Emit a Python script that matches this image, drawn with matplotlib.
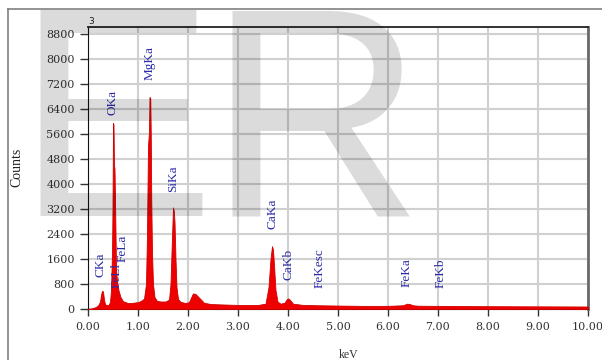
import matplotlib.pyplot as plt
from matplotlib.lines import Line2D

# spectrum (keV, counts)
energy = [0.00, 0.08, 0.15, 0.20, 0.24, 0.26, 0.28, 0.30, 0.32, 0.34, 0.37, 0.41,
          0.44, 0.46, 0.48, 0.49, 0.50, 0.51, 0.52, 0.53, 0.545, 0.56, 0.58, 0.61,
          0.65, 0.70, 0.80, 0.90, 1.00, 1.06, 1.12, 1.16, 1.18, 1.20, 1.22, 1.23,
          1.245, 1.255, 1.265, 1.28, 1.30, 1.33, 1.38, 1.45, 1.55, 1.62, 1.65,
          1.68, 1.70, 1.715, 1.73, 1.75, 1.77, 1.80, 1.85, 1.95, 2.02, 2.07,
          2.10, 2.15, 2.20, 2.26, 2.32, 2.45, 2.60, 2.80, 3.00, 3.20, 3.40,
          3.55, 3.61, 3.65, 3.68, 3.70, 3.72, 3.75, 3.79, 3.85, 3.93, 3.97,
          4.00, 4.04, 4.10, 4.30, 4.60, 5.00, 5.50, 6.00, 6.30, 6.38, 6.43,
          6.50, 6.60, 7.00, 7.50, 8.00, 9.00, 10.00]
counts = [0, 20, 60, 110, 230, 450, 580, 560, 300, 160, 120, 130,
          220, 600, 1800, 3200, 5950, 5900, 4600, 4500, 3000, 1300, 900, 600,
          380, 250, 190, 200, 220, 260, 330, 800, 2400, 5200, 5700, 6780,
          6750, 5650, 3500, 1800, 800, 380, 260, 240, 240, 300, 800,
          2300, 3250, 3150, 2800, 1600, 700, 320, 230, 190, 220, 400,
          500, 480, 400, 300, 200, 160, 150, 140, 130, 130, 130,
          170, 700, 1600, 2010, 1900, 1400, 600, 240, 170, 200, 300,
          340, 290, 170, 130, 120, 110, 100, 100, 120, 170, 160,
          120, 105, 100, 95, 90, 85, 80]

line_names = ["CKa", "FeLl", "FeLa", "OKa", "MgKa", "SiKa",
              "CaKa", "CaKb", "FeKesc", "FeKa", "FeKb"]
line_kev = [0.24, 0.58, 0.70, 0.48, 1.24, 1.70, 3.68, 4.02, 4.64, 6.38, 7.06]
label_base = [1024, 672, 1504, 6208, 7328, 3744, 2560, 928, 672, 704, 672]

fig = plt.figure(figsize=(6.02, 3.6), dpi=100)
ax = fig.add_axes([88 / 602, 1 - 309 / 360, 500 / 602, 282 / 360])

ax.fill_between(energy, counts, 0, color="#ee0000", lw=0.6, edgecolor="#d00000", zorder=3)

ax.set_xlim(0, 10)
ax.set_ylim(0, 9024)
ax.set_xticks(range(0, 11))
ax.set_xticklabels(["%.2f" % v for v in range(0, 11)])
ax.set_yticks(range(0, 8801, 800))
ax.grid(True, color="#d0d0d0", lw=1.5, zorder=0)
ax.set_axisbelow(True)

ax.tick_params(axis="y", length=5.5, width=1, pad=4, labelsize=8, color="#333333")
ax.tick_params(axis="x", length=5, width=1, pad=4, labelsize=8, color="#333333")
for lab in ax.get_xticklabels() + ax.get_yticklabels():
    lab.set_family("DejaVu Serif")
    lab.set_color("#333333")

ax.spines["left"].set_color("#111111")
ax.spines["bottom"].set_color("#111111")
ax.spines["top"].set_color("#222222")
ax.spines["top"].set_linewidth(1.3)
ax.spines["right"].set_color("#6a6a6a")
ax.spines["right"].set_linewidth(2)

for name, kev, base in zip(line_names, line_kev, label_base):
    ax.text(kev, base, name, rotation=90, ha="center", va="bottom",
            family="Liberation Serif", fontsize=9.5, color="#2a2aa8", zorder=4)

fig.text(17 / 602, 1 - 167 / 360, "Counts", rotation=90, ha="center", va="center",
         family="Liberation Serif", fontsize=10, color="#222222")
fig.text(349 / 602, 1 - 355 / 360, "keV", ha="center", va="center",
         family="Liberation Serif", fontsize=8.5, color="#333333")
fig.text(88 / 602, 1 - 21 / 360, "3", ha="left", va="center",
         family="DejaVu Sans", fontsize=6.5, color="#222222")

# page frame
fig.add_artist(Line2D([8 / 602, 1], [1 - 9 / 360] * 2, transform=fig.transFigure,
                      color="#808080", lw=1.2))
fig.add_artist(Line2D([8 / 602] * 2, [0, 1 - 9 / 360], transform=fig.transFigure,
                      color="#808080", lw=1.2))

# watermark
fig.text(16 / 602, 1 - 216 / 360, "E", ha="left", va="baseline",
         family="Liberation Sans", fontsize=215, color="black", alpha=0.14, zorder=10)
fig.text(207 / 602, 1 - 216 / 360, "R", ha="left", va="baseline",
         family="Liberation Sans", fontsize=215, color="black", alpha=0.14, zorder=10)

fig.savefig("out.png", dpi=100)
